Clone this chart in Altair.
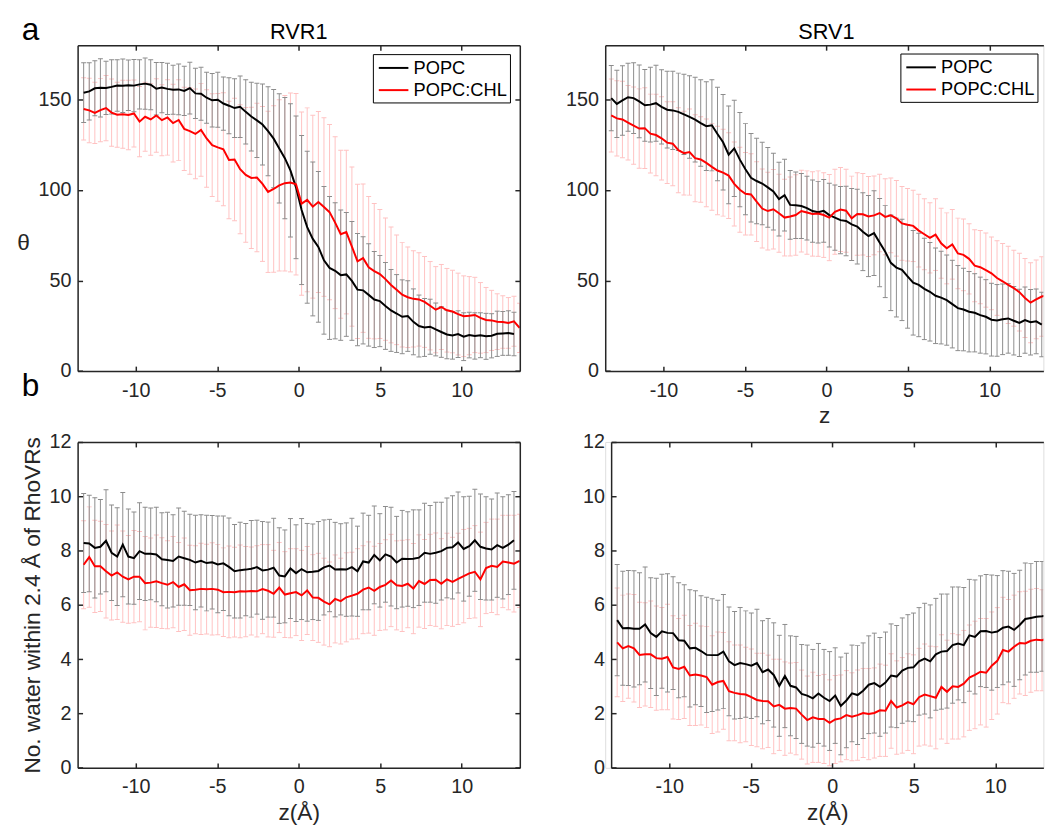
import altair as alt
import pandas as pd

FONT = "Liberation Sans"
AX = "#262626"
GRAY = "#8c8c8c"
PINK = "#ffc2c2"

# z grid (Å)
Z = [round(-13.2 + 0.343 * i, 3) for i in range(79)]

# ---- RVR1, theta ----
RVR1_POPC = [
    153.8, 154.5, 156.2, 156.5, 156.4, 157.0, 157.8, 157.6, 157.9, 157.7,
    158.4, 158.8, 158.2, 156.0, 156.6, 155.9, 155.4, 155.6, 154.8, 156.3,
    153.4, 153.2, 151.0, 149.6, 149.9, 147.8, 146.6, 145.3, 146.0, 143.2,
    140.6, 138.5, 136.2, 132.5, 128.4, 123.0, 117.6, 110.9, 101.5, 89.0,
    79.5, 73.0, 68.6, 61.2, 57.0, 55.4, 53.0, 53.4, 49.8, 45.0,
    44.6, 42.1, 39.5, 38.7, 36.0, 33.5, 31.8, 30.0, 30.4, 27.2,
    24.9, 24.1, 24.5, 23.0, 21.6, 20.2, 19.7, 20.4, 19.0, 19.9,
    19.4, 19.8, 19.2, 19.5, 20.6, 20.8, 21.0, 20.5]
RVR1_POPC_SD = [
    16.5, 15.8, 15.2, 16.1, 14.7, 15.0, 14.2, 14.8, 13.9, 14.4,
    13.6, 14.1, 13.8, 14.5, 13.9, 14.2, 13.5, 14.0, 13.6, 14.3,
    13.9, 14.6, 14.1, 14.8, 15.2, 14.7, 15.5, 16.2, 17.0, 17.8,
    19.0, 20.5, 22.4, 24.6, 27.1, 30.2, 33.5, 36.8, 39.4, 41.2,
    42.0, 42.5, 41.6, 40.8, 39.5, 37.6, 36.0, 34.2, 32.8, 31.0,
    29.6, 28.3, 26.5, 25.2, 24.0, 22.6, 21.5, 20.4, 19.5, 18.2,
    17.1, 16.0, 15.2, 14.6, 14.0, 13.4, 13.1, 12.9, 13.2, 12.6,
    12.8, 12.4, 12.7, 12.2, 12.5, 12.1, 12.3, 12.0]
RVR1_CHL = [
    144.8, 144.0, 142.6, 144.2, 145.3, 142.8, 141.6, 141.9, 141.5, 142.3,
    137.8, 140.5, 139.0, 141.2, 138.6, 140.1, 137.0, 138.7, 133.8, 132.6,
    131.0, 133.2, 128.5, 124.8, 123.6, 122.5, 116.6, 116.9, 111.5, 108.4,
    106.7, 106.9, 103.4, 99.0, 100.6, 102.6, 103.8, 104.2, 103.2, 92.5,
    94.6, 90.8, 93.4, 90.6, 87.8, 82.0, 75.6, 76.8, 68.8, 60.6,
    62.4, 57.3, 55.2, 53.6, 50.8, 47.6, 44.9, 42.2, 40.8, 39.9,
    39.6, 38.2, 36.1, 33.9, 35.4, 33.6, 32.9, 31.5, 30.3, 30.6,
    31.0, 29.4, 28.2, 28.0, 27.3, 27.1, 26.6, 27.5, 23.9]
RVR1_CHL_SD = [
    17.2, 17.8, 16.9, 17.5, 18.0, 18.6, 17.9, 18.8, 19.2, 18.5,
    19.4, 19.0, 19.8, 20.3, 19.6, 20.8, 21.5, 22.3, 23.0, 23.9,
    24.8, 25.6, 26.9, 28.4, 29.8, 31.2, 32.5, 33.8, 35.6, 37.2,
    39.0, 41.0, 42.8, 44.5, 46.0, 47.3, 48.5, 49.4, 50.1, 50.6,
    50.8, 50.5, 50.0, 49.3, 48.4, 47.5, 46.4, 45.2, 44.0, 42.6,
    41.0, 39.2, 37.4, 35.6, 33.8, 32.0, 30.3, 28.9, 27.8, 26.6,
    25.8, 25.1, 24.4, 23.8, 23.5, 23.1, 22.8, 22.6, 22.3, 21.6,
    20.8, 19.5, 18.0, 16.6, 15.4, 14.5, 14.0, 13.8, 13.6]

# ---- SRV1, theta ----
SRV1_POPC = [
    150.8, 147.6, 149.5, 151.3, 150.8, 149.0, 146.8, 147.2, 148.0, 146.0,
    144.4, 144.0, 143.2, 141.8, 140.4, 138.9, 137.0, 135.3, 135.8, 131.0,
    126.4, 119.5, 123.0, 116.8, 111.5, 106.8, 105.0, 103.6, 101.5, 99.2,
    95.0, 97.2, 91.8, 91.6, 91.2, 90.0, 88.4, 87.8, 88.5, 86.2,
    84.8, 83.4, 82.9, 81.0, 79.8, 77.0, 74.6, 76.2, 71.0, 66.0,
    59.8, 57.2, 55.9, 52.3, 48.8, 47.6, 45.4, 43.8, 41.6, 40.6,
    39.2, 37.0, 34.8, 34.0, 32.8, 32.2, 30.9, 30.0, 28.4, 28.0,
    28.6, 29.1, 27.8, 26.6, 28.2, 27.0, 27.5, 25.7]
SRV1_POPC_SD = [
    18.0, 18.6, 19.2, 18.8, 19.5, 20.1, 19.8, 20.6, 21.0, 20.5,
    21.2, 21.6, 21.4, 22.2, 22.8, 23.4, 23.9, 24.5, 25.2, 25.8,
    26.4, 27.0, 26.6, 26.0, 25.2, 24.4, 23.6, 22.8, 22.0, 21.2,
    20.4, 19.8, 19.0, 18.4, 18.0, 17.6, 17.2, 17.0, 17.3, 17.6,
    18.0, 18.6, 19.2, 19.9, 20.6, 21.5, 22.4, 23.4, 24.4, 25.4,
    26.4, 27.3, 28.0, 28.6, 28.9, 28.6, 28.0, 27.2, 26.4, 25.6,
    24.9, 24.2, 23.5, 22.8, 22.2, 21.6, 21.0, 20.5, 20.1, 19.8,
    19.5, 19.2, 18.9, 18.6, 18.3, 18.1, 17.9, 17.8]
SRV1_CHL = [
    141.2, 139.6, 139.0, 137.2, 135.6, 134.0, 134.2, 131.2, 130.4, 128.6,
    126.2, 125.6, 122.0, 120.4, 121.0, 117.6, 116.9, 115.0, 112.8, 110.8,
    109.6, 108.0, 103.4, 100.2, 98.0, 97.6, 93.6, 89.8, 88.4, 89.4,
    87.2, 84.8, 85.4, 86.2, 88.4, 87.6, 86.8, 87.0, 86.2, 84.8,
    88.0, 89.2, 88.6, 84.4, 86.8, 86.6, 85.4, 86.0, 87.3, 85.2,
    86.0, 84.4, 81.6, 80.8, 80.2, 77.6, 75.6, 73.6, 75.4, 70.6,
    67.8, 70.0, 65.0, 64.2, 62.0, 58.2, 57.4, 55.8, 54.0, 51.4,
    49.6, 47.6, 45.8, 43.6, 40.4, 37.8, 39.6, 41.2, 42.0]
SRV1_CHL_SD = [
    20.2, 20.8, 21.1, 20.6, 21.4, 21.9, 22.3, 21.8, 22.5, 23.0,
    22.6, 23.2, 23.5, 23.1, 23.8, 24.0, 23.6, 24.2, 23.9, 24.4,
    24.0, 23.7, 23.2, 23.5, 22.8, 22.4, 22.0, 21.8, 21.5, 21.9,
    21.6, 21.2, 21.8, 22.2, 22.6, 23.0, 23.3, 23.6, 23.4, 23.8,
    23.5, 23.2, 22.9, 23.3, 22.8, 22.5, 22.1, 21.8, 21.4, 21.0,
    20.6, 20.9, 20.4, 20.0, 19.7, 20.1, 19.6, 19.4, 19.8, 19.3,
    19.6, 19.2, 19.5, 19.8, 19.4, 19.9, 20.2, 20.5, 20.1, 20.6,
    20.9, 21.3, 21.0, 21.5, 21.8, 22.1, 21.7, 22.0, 21.6]

# ---- RVR1, water count ----
W_RVR1_POPC = [
    8.28, 8.26, 8.10, 8.14, 8.36, 7.92, 7.78, 8.22, 7.78, 7.72,
    7.98, 7.88, 7.88, 7.86, 7.68, 7.65, 7.62, 7.78, 7.72, 7.66,
    7.56, 7.62, 7.54, 7.57, 7.49, 7.53, 7.40, 7.24, 7.28, 7.30,
    7.33, 7.39, 7.27, 7.30, 7.37, 7.08, 7.05, 7.34, 7.17, 7.32,
    7.20, 7.22, 7.25, 7.38, 7.45, 7.30, 7.31, 7.30, 7.39, 7.24,
    7.60, 7.56, 7.84, 7.64, 7.86, 7.78, 7.56, 7.70, 7.69, 7.70,
    7.74, 7.92, 7.88, 7.92, 7.98, 8.10, 8.12, 8.30, 8.06, 8.16,
    8.38, 8.14, 8.08, 8.04, 8.20, 8.10, 8.22, 8.38]
W_RVR1_POPC_SD = [
    1.82, 1.78, 1.85, 1.74, 1.88, 1.76, 1.80, 1.92, 1.75, 1.70,
    1.78, 1.72, 1.69, 1.74, 1.71, 1.76, 1.70, 1.79, 1.73, 1.68,
    1.74, 1.70, 1.76, 1.72, 1.78, 1.74, 1.80, 1.72, 1.76, 1.70,
    1.78, 1.73, 1.80, 1.75, 1.82, 1.76, 1.71, 1.84, 1.78, 1.86,
    1.80, 1.76, 1.82, 1.75, 1.70, 1.74, 1.68, 1.72, 1.80, 1.66,
    1.78, 1.74, 1.80, 1.72, 1.76, 1.82, 1.70, 1.78, 1.74, 1.80,
    1.76, 1.82, 1.78, 1.86, 1.80, 1.84, 1.90, 1.86, 1.92, 1.84,
    1.88, 1.94, 1.90, 1.86, 1.92, 1.88, 1.84, 1.80]
W_RVR1_CHL = [
    7.48, 7.76, 7.42, 7.42, 7.24, 7.08, 7.20, 7.04, 6.94, 7.04,
    7.04, 6.80, 6.82, 6.87, 6.80, 6.74, 6.84, 6.66, 6.76, 6.54,
    6.56, 6.59, 6.58, 6.59, 6.56, 6.47, 6.48, 6.47, 6.50, 6.49,
    6.51, 6.50, 6.58, 6.52, 6.41, 6.64, 6.38, 6.43, 6.47, 6.35,
    6.53, 6.27, 6.26, 6.12, 6.02, 6.22, 6.14, 6.28, 6.34, 6.41,
    6.56, 6.64, 6.52, 6.66, 6.74, 6.90, 6.72, 6.70, 6.78, 6.60,
    6.88, 6.77, 6.92, 6.93, 6.78, 6.94, 6.85, 6.96, 7.06, 7.16,
    7.22, 6.94, 7.36, 7.44, 7.40, 7.60, 7.56, 7.52, 7.62]
W_RVR1_CHL_SD = [
    1.62, 1.85, 1.70, 1.66, 1.72, 1.64, 1.74, 1.68, 1.62, 1.70,
    1.66, 1.72, 1.64, 1.70, 1.67, 1.62, 1.68, 1.64, 1.70, 1.66,
    1.62, 1.68, 1.65, 1.70, 1.66, 1.63, 1.69, 1.65, 1.71, 1.66,
    1.62, 1.68, 1.64, 1.70, 1.60, 1.66, 1.58, 1.64, 1.60, 1.66,
    1.62, 1.58, 1.64, 1.60, 1.56, 1.62, 1.58, 1.64, 1.60, 1.66,
    1.62, 1.68, 1.64, 1.60, 1.66, 1.70, 1.64, 1.68, 1.62, 1.66,
    1.70, 1.64, 1.68, 1.72, 1.66, 1.70, 1.64, 1.68, 1.72, 1.66,
    1.70, 1.74, 1.68, 1.72, 1.76, 1.70, 1.74, 1.78, 1.72]

# ---- SRV1, water count ----
W_SRV1_POPC = [
    5.44, 5.14, 5.15, 5.12, 5.12, 5.28, 4.96, 4.82, 5.03, 4.97,
    4.96, 4.70, 4.68, 4.40, 4.42, 4.30, 4.16, 4.15, 4.15, 4.28,
    3.92, 3.78, 3.86, 3.82, 3.76, 3.86, 3.52, 3.62, 3.42, 3.02,
    3.38, 3.02, 2.96, 2.72, 2.66, 2.56, 2.74, 2.58, 2.46, 2.66,
    2.28, 2.48, 2.74, 2.68, 2.84, 3.06, 3.12, 2.98, 3.14, 3.40,
    3.36, 3.58, 3.68, 3.70, 3.92, 4.02, 3.92, 4.18, 4.28, 4.30,
    4.52, 4.58, 4.52, 4.88, 4.82, 5.03, 5.04, 4.98, 5.02, 5.16,
    5.20, 5.08, 5.26, 5.48, 5.52, 5.56, 5.58, 5.62]
W_SRV1_POPC_SD = [
    2.05, 2.10, 2.12, 2.14, 2.06, 2.12, 2.04, 2.16, 2.10, 2.18,
    2.08, 2.12, 2.06, 2.16, 2.10, 2.04, 2.12, 2.08, 2.02, 2.10,
    2.00, 1.98, 2.04, 1.96, 1.94, 1.98, 1.90, 1.88, 1.92, 1.86,
    1.90, 1.84, 1.88, 1.82, 1.86, 1.80, 1.84, 1.78, 1.82, 1.76,
    1.80, 1.74, 1.78, 1.82, 1.76, 1.80, 1.84, 1.82, 1.86, 1.90,
    1.88, 1.94, 1.96, 2.00, 1.98, 2.04, 2.08, 2.06, 2.12, 2.10,
    2.14, 2.08, 2.12, 2.06, 2.10, 2.04, 2.08, 2.12, 2.06, 2.10,
    2.04, 2.08, 2.02, 2.06, 2.00, 2.04, 2.02, 2.00]
W_SRV1_CHL = [
    4.62, 4.40, 4.48, 4.40, 4.16, 4.18, 4.18, 4.04, 4.02, 4.08,
    3.70, 3.64, 3.72, 3.40, 3.44, 3.40, 3.34, 3.06, 3.16, 3.20,
    2.82, 2.76, 2.72, 2.70, 2.60, 2.50, 2.46, 2.45, 2.26, 2.32,
    2.18, 2.20, 2.18, 1.96, 1.76, 1.86, 1.80, 1.80, 1.66, 1.78,
    1.82, 1.94, 1.88, 1.94, 2.02, 1.98, 2.02, 2.12, 2.10, 2.46,
    2.22, 2.30, 2.42, 2.34, 2.60, 2.70, 2.64, 2.58, 2.98, 2.80,
    3.00, 2.98, 3.10, 3.32, 3.42, 3.54, 3.50, 3.76, 3.94, 4.34,
    4.28, 4.46, 4.60, 4.58, 4.68, 4.72, 4.70, 4.76, 4.82]
W_SRV1_CHL_SD = [
    2.00, 1.96, 1.92, 1.98, 1.94, 1.90, 1.96, 1.92, 1.88, 1.94,
    1.90, 1.86, 1.90, 1.84, 1.88, 1.82, 1.86, 1.80, 1.84, 1.78,
    1.82, 1.76, 1.80, 1.74, 1.78, 1.72, 1.76, 1.70, 1.74, 1.68,
    1.72, 1.66, 1.70, 1.64, 1.62, 1.66, 1.60, 1.64, 1.58, 1.62,
    1.60, 1.64, 1.62, 1.66, 1.64, 1.68, 1.66, 1.70, 1.68, 1.74,
    1.72, 1.76, 1.78, 1.82, 1.80, 1.86, 1.84, 1.88, 1.92, 1.90,
    1.94, 1.92, 1.96, 1.94, 1.98, 1.96, 2.00, 1.98, 1.96, 1.94,
    1.92, 1.90, 1.88, 1.92, 1.90, 1.88, 1.86, 1.84, 1.82]

SERIES = ["POPC", "POPC:CHL"]
X_TICKS = [-10, -5, 0, 5, 10]
THETA_TICKS = [0, 50, 100, 150]
WATER_TICKS = [0, 2, 4, 6, 8, 10, 12]
XMIN = -13.57


def frame(mean, sd, name):
    n = len(mean)
    return pd.DataFrame({"z": Z[:n], "m": mean, "sd": sd, "series": name})


def make_axis(orient, values, labels=True, title=None, label_padding=4, offset=0,
              title_x=None, title_y=None, title_angle=None):
    kw = dict(
        orient=orient, values=values, grid=False, zindex=1, offset=offset,
        domain=True, domainColor=AX, domainWidth=1.5,
        ticks=True, tickColor=AX, tickWidth=1.5, tickSize={"expr": "-5"},
        labels=labels, labelFont=FONT, labelFontSize=20, labelColor=AX,
        labelPadding=label_padding, labelExpr="'' + datum.value",
        title=title, titleFont=FONT, titleFontSize=23, titleColor=AX,
        titleFontWeight="normal", titleBaseline="alphabetic",
    )
    if title_x is not None:
        kw["titleX"] = title_x
    if title_y is not None:
        kw["titleY"] = title_y
    if title_angle is not None:
        kw["titleAngle"] = title_angle
        kw["titleAlign"] = "center"
        kw["titleBaseline"] = "middle"
    return alt.Axis(**kw)


def panel(pb, pb_sd, pr, pr_sd, xmax, width, height, ymax, yvalues, x0=0,
          title=None, title_x=0, ylabel=None, ytitle_x=None, ytitle_y=None, ytitle_angle=None,
          xlabel=None, legend_xy=None, letter=None, letter_y=0, right_axis=True):
    dfb = frame(pb, pb_sd, SERIES[0])
    dfr = frame(pr, pr_sd, SERIES[1])
    both = pd.concat([dfb, dfr], ignore_index=True)
    if x0:
        xs = alt.Scale(domain=[XMIN, xmax], range=[x0, width], nice=False, zero=False)
    else:
        xs = alt.Scale(domain=[XMIN, xmax], nice=False, zero=False)
    ys = alt.Scale(domain=[0, ymax], nice=False, zero=False)
    if xlabel is not None:
        xa = make_axis("bottom", X_TICKS, title=xlabel, label_padding=14.5, title_y=52)
    else:
        xa = make_axis("bottom", X_TICKS, title=None, label_padding=14.5)
    if ylabel is not None:
        ya = make_axis("left", yvalues, title=ylabel, label_padding=11.8, offset=-x0,
                       title_x=ytitle_x, title_y=ytitle_y, title_angle=ytitle_angle)
    else:
        ya = make_axis("left", yvalues, title=None, label_padding=11.8, offset=-x0)
    X = alt.X("z:Q", scale=xs, axis=xa)

    def bars(df, color):
        base = alt.Chart(df).transform_calculate(
            lo="datum.m - datum.sd", hi="datum.m + datum.sd")
        rule = base.mark_rule(color=color, strokeWidth=1, clip=True).encode(
            x=X, y=alt.Y("lo:Q", scale=ys, axis=ya), y2="hi:Q")
        cap_lo = base.mark_tick(orient="horizontal", size=5, thickness=1,
                                color=color, opacity=1, clip=True).encode(
            x=X, y=alt.Y("lo:Q", scale=ys, axis=ya))
        cap_hi = base.mark_tick(orient="horizontal", size=5, thickness=1,
                                color=color, opacity=1, clip=True).encode(
            x=X, y=alt.Y("hi:Q", scale=ys, axis=ya))
        return [rule, cap_lo, cap_hi]

    cscale = alt.Scale(domain=SERIES, range=["#000000", "#ff0000"])
    if legend_xy is not None:
        leg = alt.Legend(
            orient="none", legendX=legend_xy[0], legendY=legend_xy[1], title=None,
            strokeColor="#000000", fillColor="#ffffff", padding=3, cornerRadius=0,
            symbolType="M-1.5,0H1.5", symbolSize=400, symbolStrokeWidth=2,
            symbolOffset=7, labelOffset=9.3, rowPadding=1.5,
            labelFont=FONT, labelFontSize=18.5, labelColor="#000000")
        color = alt.Color("series:N", scale=cscale, legend=leg)
    else:
        color = alt.Color("series:N", scale=cscale, legend=None)

    line = alt.Chart(both).mark_line(strokeWidth=2, clip=True).encode(
        x=X, y=alt.Y("m:Q", scale=ys, axis=ya), color=color)

    layers = bars(dfr, PINK) + bars(dfb, GRAY) + [line]
    if letter is not None:
        layers.append(
            alt.Chart(pd.DataFrame({"t": [letter]})).mark_text(
                align="left", baseline="alphabetic", fontSize=32, font=FONT, color="#000000"
            ).encode(text="t:N", x=alt.value(-56.6 + x0), y=alt.value(letter_y))
        )
    if title is not None:
        layers.append(
            alt.Chart(pd.DataFrame({"t": [title]})).mark_text(
                align="center", baseline="alphabetic", fontSize=22, font=FONT, color="#000000"
            ).encode(text="t:N", x=alt.value(title_x), y=alt.value(-6))
        )
    base = alt.layer(*layers)

    top_axis = make_axis("top", X_TICKS, labels=False)
    if right_axis:
        yr = alt.Y("m:Q", scale=ys, axis=make_axis("right", yvalues, labels=False))
    else:
        yr = alt.Y("m:Q", scale=ys, axis=None)
    mirror = alt.Chart(dfb).mark_line(strokeOpacity=0).encode(
        x=alt.X("z:Q", scale=xs, axis=top_axis), y=yr)

    ch = alt.layer(base, mirror).resolve_axis(x="independent", y="independent")
    return ch.properties(width=width, height=height)


W_L = 448.4
W_R = 444.3
H = 330.4
A = panel(RVR1_POPC, RVR1_POPC_SD, RVR1_CHL, RVR1_CHL_SD, 13.57, W_L, H, 180, THETA_TICKS,
          title="RVR1", title_x=W_L / 2, ylabel="θ", ytitle_x=-55.3, ytitle_y=200,
          ytitle_angle=0, legend_xy=(299.4, 9), letter="a", letter_y=-5)
B = panel(SRV1_POPC, SRV1_POPC_SD, SRV1_CHL, SRV1_CHL_SD, 13.31, W_R, H, 180, THETA_TICKS,
          title="SRV1", title_x=W_L / 2, xlabel="z", legend_xy=(299.3, 8.4), right_axis=False)
C = panel(W_RVR1_POPC, W_RVR1_POPC_SD, W_RVR1_CHL, W_RVR1_CHL_SD, 13.57, W_L, H, 12, WATER_TICKS,
          ylabel="No. water within 2.4 Å of RhoVRs", ytitle_x=-39, xlabel="z(Å)",
          letter="b", letter_y=-46.7)
D = panel(W_SRV1_POPC, W_SRV1_POPC_SD, W_SRV1_CHL, W_SRV1_CHL_SD, 12.95, W_R, H, 12, WATER_TICKS,
          x0=6, xlabel="z(Å)", right_axis=False)

chart = (
    alt.concat(A, B, C, D, columns=2, spacing={"row": 71.3, "column": 86}, bounds="flush")
    .resolve_scale(color="independent")
    .properties(padding={"left": 7.6, "top": 0, "right": 0, "bottom": 0}, background="#ffffff")
    .configure_view(stroke=None)
    .configure(font=FONT)
)

chart.save("out.html", embed_options={"renderer": "svg", "actions": False})
